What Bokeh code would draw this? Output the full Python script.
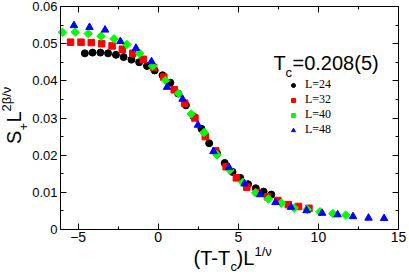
import math
from bokeh.plotting import figure
from bokeh.models import (Range1d, LinearAxis, SingleIntervalTicker, Label, Legend,
                          LegendItem, CustomJSTickFormatter)
from bokeh.embed import file_html
from bokeh.resources import INLINE

# ---- data ----
x_l24 = [-4.58, -4.10, -3.61, -3.13, -2.64, -2.16, -1.67, -1.19, -0.70, -0.22, 0.27, 0.76, 1.24,
         1.73, 2.21, 2.70, 3.18, 3.67, 4.15, 4.64, 5.12, 5.61, 6.09, 6.58, 7.06]
y_l24 = [0.0474, 0.0476, 0.0476, 0.0474, 0.0470, 0.0464, 0.0457, 0.0450, 0.0440, 0.0428, 0.0415,
         0.0395, 0.0366, 0.0334, 0.0304, 0.0271, 0.0232, 0.0205, 0.0179, 0.0155, 0.0139, 0.0122,
         0.0111, 0.0102, 0.0094]

x_l32 = [-5.47, -4.82, -4.18, -3.53, -2.88, -2.24, -1.59, -0.94, -0.29, 0.35, 1.00, 1.65, 2.29,
         2.94, 3.59, 4.24, 4.88, 5.53, 6.18, 6.82, 7.47, 8.12, 8.76, 9.41]
y_l32 = [0.0504, 0.0504, 0.0503, 0.0500, 0.0494, 0.0485, 0.0474, 0.0458, 0.0436, 0.0410, 0.0376,
         0.0340, 0.0300, 0.0250, 0.0212, 0.0169, 0.0139, 0.0114, 0.0100, 0.0088, 0.0078, 0.0067,
         0.0062, 0.0057]

x_l40 = [-5.98, -5.18, -4.37, -3.57, -2.76, -1.96, -1.16, -0.35, 0.45, 1.26, 2.06, 2.86, 3.67,
         4.47, 5.28, 6.08, 6.88, 7.69, 8.49, 9.30, 10.10, 10.90, 11.71]
y_l40 = [0.0531, 0.0531, 0.0527, 0.0520, 0.0513, 0.0498, 0.0474, 0.0440, 0.0401, 0.0366, 0.0311,
         0.0261, 0.0201, 0.0160, 0.0127, 0.0099, 0.0082, 0.0071, 0.0058, 0.0054, 0.0048, 0.0043,
         0.0039]

x_l48 = [-5.26, -4.29, -3.32, -2.36, -1.39, -0.42, 0.55, 1.52, 2.48, 3.45, 4.42, 5.39, 6.36, 7.32,
         8.29, 9.26, 10.23, 11.20, 12.16, 13.13, 14.10]
y_l48 = [0.0549, 0.0544, 0.0537, 0.0506, 0.0488, 0.0452, 0.0383, 0.0351, 0.0281, 0.0210, 0.0167,
         0.0123, 0.0094, 0.0073, 0.0060, 0.0051, 0.0044, 0.0040, 0.0035, 0.0031, 0.0030]

series_labels = ["L=24", "L=32", "L=40", "L=48"]
x_limits = [-6.1, 15]
y_limits = [0, 0.06]

SANS = "Liberation Sans"
SERIF = "Liberation Serif"

# ---- layout: frame = whole canvas, axes fixed at the plot-box edges ----
W, H = 409, 274
BOX_L, BOX_R, BOX_T, BOX_B = 60, 398, 6, 229      # pixel position of the plot box
upx = (x_limits[1] - x_limits[0]) / (BOX_R - BOX_L)
upy = (y_limits[1] - y_limits[0]) / (BOX_B - BOX_T)
xr = Range1d(x_limits[0] - BOX_L * upx, x_limits[1] + (W - BOX_R) * upx)
yr = Range1d(y_limits[0] - (H - BOX_B) * upy, y_limits[1] + BOX_T * upy)

def X(px):
    return xr.start + px * upx

def Y(py):
    return yr.end - py * upy

p = figure(width=W, height=H, x_range=xr, y_range=yr, x_axis_type=None, y_axis_type=None,
           output_backend="svg", toolbar_location=None, min_border=0)
p.background_fill_color = "white"
p.border_fill_color = "white"
p.outline_line_color = None

blank = CustomJSTickFormatter(code="return '';")
yfmt = CustomJSTickFormatter(code="return Math.abs(tick) < 1e-9 ? '0' : tick.toFixed(2);")

def make_axis(side, loc, horizontal, labels):
    ticker = SingleIntervalTicker(interval=5 if horizontal else 0.01, num_minor_ticks=2)
    ax = LinearAxis(ticker=ticker, fixed_location=loc,
                    bounds=tuple(x_limits) if horizontal else tuple(y_limits))
    ax.axis_line_color = "black"
    ax.axis_line_width = 1
    ax.major_tick_line_color = "black"
    ax.minor_tick_line_color = "black"
    ax.major_tick_in = 6
    ax.major_tick_out = 0
    ax.minor_tick_in = 3
    ax.minor_tick_out = 0
    ax.major_label_text_font = SANS
    ax.major_label_text_color = "black"
    if labels:
        ax.major_label_text_font_size = "14px" if horizontal else "13px"
        ax.major_label_standoff = 2 if horizontal else 3
        if not horizontal:
            ax.formatter = yfmt
    else:
        ax.formatter = blank
    p.add_layout(ax, side)
    return ax

make_axis("below", y_limits[0], True, True)
make_axis("above", y_limits[1], True, False)
make_axis("left", x_limits[0], False, True)
make_axis("right", x_limits[1], False, False)

r1 = p.scatter(x_l24, y_l24, marker="circle", size=7, fill_color="black", line_color="black")
r2 = p.scatter(x_l32, y_l32, marker="square", size=6.5, fill_color="#ff0000", line_color="#ff0000")
r3 = p.scatter(x_l40, y_l40, marker="square", angle=math.pi / 4, size=6,
               fill_color="#00ff00", line_color="#00ff00")
r4 = p.scatter(x_l48, y_l48, marker="triangle", size=7.5, fill_color="#0000ff", line_color="#0000ff")

legend = Legend(items=[LegendItem(label=series_labels[i], renderers=[r])
                       for i, r in enumerate([r1, r2, r3, r4])],
                location=(288, H - 137), orientation="vertical",
                glyph_width=10, glyph_height=12, label_height=12, label_standoff=7,
                spacing=-2, padding=0, margin=0, border_line_color=None,
                background_fill_alpha=0, label_text_font=SERIF, label_text_font_size="12px",
                label_text_color="black")
p.add_layout(legend)

SHIFT = 0.4   # measured baseline offset of rendered labels, in units of the font size

def lab(px, py, text, size, rotated=False, font=SANS):
    if rotated:
        px = px - SHIFT * size
    else:
        py = py - SHIFT * size
    p.add_layout(Label(x=X(px), y=Y(py), text=text, text_font=font,
                       text_font_size=f"{size}px", text_color="black",
                       angle=math.pi / 2 if rotated else 0.0, text_align="left",
                       text_baseline="alphabetic"))

# T_c annotation
lab(273, 70, "T", 20)
lab(285, 77, "c", 13)
lab(292, 70, "=0.208(5)", 20)

# x-axis label: (T-T_c)L^{1/nu}
lab(193, 265, "(T-T", 20)
lab(230, 271, "c", 13)
lab(236, 265, ")L", 20)
lab(254, 256, "1/\u03bd", 13)

# y-axis label: S_+ L^{2beta/nu} (rotated, reads upward)
lab(21, 143.5, "S", 20, True)
lab(28.5, 130, "+", 13, True)
lab(21, 122, "L", 20, True)
lab(11, 111, "2\u03b2/\u03bd", 13, True)

open("out.html", "w").write(file_html(p, INLINE))
